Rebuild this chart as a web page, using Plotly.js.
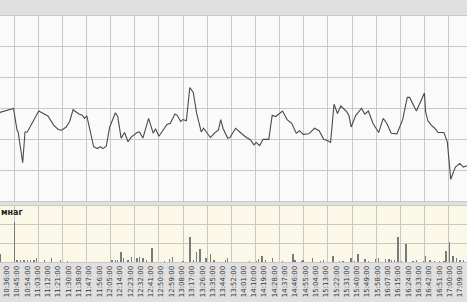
<!DOCTYPE html>
<html><head><meta charset="utf-8">
<script src="https://cdn.plot.ly/plotly-3.0.1.min.js"></script>
<style>html,body{margin:0;padding:0;background:#e0e0e0;overflow:hidden}#chart{width:467px;height:302px}</style>
</head><body><div id="chart"></div>
<script>
// bar index (0 = 10:36:00)
const priceIdx = [-7,4,6,9,10,14,16,18,23,28,32,36,41,45,48,52,55,58,63,66,68,70,76,79,82,84,87,90,95,97,100,103,106,109,114,116,119,124,128,130,133,137,140,143,147,149,152,154,157,160,163,166,170,172,175,178,182,185,187,189,193,195,200,204,208,213,216,218,221,224,229,232,235,241,245,249,253,256,259,264,269,273,277,280,283,286,289,292,297,299,301,305,310,313,316,320,325,329,332,336,341,346,350,352,358,365,366,368,371,374,377,382,385,388,392,396,399,402,405];
const priceVal = [86.43,86.49,86.50,86.15,86.12,85.62,86.12,86.12,86.29,86.46,86.42,86.38,86.23,86.16,86.15,86.20,86.29,86.48,86.41,86.39,86.34,86.38,85.88,85.85,85.88,85.85,85.89,86.20,86.43,86.37,86.02,86.11,85.96,86.04,86.11,86.12,86.02,86.34,86.10,86.17,86.05,86.15,86.24,86.26,86.41,86.39,86.29,86.32,86.30,86.84,86.76,86.42,86.12,86.18,86.10,86.03,86.11,86.15,86.32,86.18,86.02,86.03,86.18,86.11,86.05,85.99,85.91,85.95,85.90,86.00,86.00,86.39,86.37,86.46,86.32,86.26,86.10,86.14,86.08,86.09,86.18,86.14,86.00,85.98,85.95,86.57,86.42,86.54,86.45,86.39,86.20,86.39,86.50,86.41,86.46,86.26,86.11,86.34,86.26,86.10,86.09,86.32,86.68,86.68,86.46,86.75,86.45,86.30,86.23,86.18,86.11,86.11,85.96,85.35,85.55,85.61,85.55,85.57,85.56];
const volIdx = [-6,7,9,12,15,18,21,24,26,33,39,47,53,92,95,97,100,102,106,109,114,116,119,122,127,138,142,145,154,160,163,166,169,174,178,181,191,193,212,218,220,223,226,232,241,250,252,258,259,267,274,277,285,291,294,301,304,307,313,316,322,325,331,334,336,339,342,345,349,355,358,364,366,370,374,378,382,384,387,390,393,396,399];
const volVal = [430,2160,110,110,110,110,110,110,200,110,230,110,50,110,110,110,520,200,110,280,230,280,230,110,770,50,160,280,50,1355,110,550,700,200,410,110,110,230,30,50,160,340,110,200,30,410,110,60,110,230,30,110,320,30,30,200,30,430,140,50,160,200,160,160,110,110,1323,30,964,30,110,30,320,110,50,50,50,600,1055,340,200,110,110];
const tickIdx = [-9,0,9,18,27,36,45,54,63,72,81,90,99,108,117,126,135,144,153,162,171,180,189,198,207,216,225,234,243,252,261,270,279,288,297,306,315,324,333,342,351,360,369,378,387,396];
const tickLabels = ["10:27:00","10:36:00","10:45:00","10:54:00","11:03:00","11:12:00","11:21:00","11:30:00","11:38:00","11:47:00","11:56:00","12:05:00","12:14:00","12:23:00","12:32:00","12:41:00","12:50:00","12:59:00","13:08:00","13:17:00","13:26:00","13:35:00","13:44:00","13:52:00","14:01:00","14:10:00","14:19:00","14:28:00","14:37:00","14:46:00","14:55:00","15:04:00","15:13:00","15:22:00","15:31:00","15:40:00","15:49:00","15:58:00","16:07:00","16:15:00","16:24:00","16:33:00","16:42:00","16:51:00","17:00:00","17:09:00"];

const xRange = [-5.85, 402.2];
const gridVals = [];
for (let k = -1; k <= 20; k++) gridVals.push(6.38 + 21.1 * k);
const gc = 'rgb(200,200,200)';

const traces = [
  {type:'scatter', mode:'lines', x: priceIdx, y: priceVal, xaxis:'x2', yaxis:'y',
   line:{color:'#4a4a4a', width:1.1}, hoverinfo:'skip'},
  {type:'bar', x: volIdx, y: volVal, xaxis:'x', yaxis:'y2', width:1.2,
   marker:{color:'#7a7a7a', line:{width:0}}, hoverinfo:'skip'}
];

const layout = {
  width:467, height:302, margin:{l:0,r:0,t:0,b:0},
  paper_bgcolor:'#e0e0e0', plot_bgcolor:'rgba(0,0,0,0)',
  showlegend:false, bargap:0,
  font:{family:'DejaVu Sans', size:7, color:'#3a3a3a'},
  xaxis:{anchor:'y2', domain:[0,1], range:xRange, tickmode:'array', tickvals:tickIdx, ticktext:tickLabels,
    tickangle:-90, showgrid:false, zeroline:false, ticks:'', showline:true, mirror:true, linecolor:gc,
    tickfont:{family:'DejaVu Sans', size:7, color:'#3a3a3a'},
    minor:{tickmode:'array', tickvals:gridVals, showgrid:true, gridcolor:gc, gridwidth:1, ticks:''}},
  xaxis2:{anchor:'y', matches:'x', domain:[0,1], range:xRange, tickmode:'array', tickvals:gridVals,
    showticklabels:false, showgrid:true, gridcolor:gc, zeroline:false, ticks:'', showline:true, mirror:true, linecolor:gc},
  yaxis:{domain:[0.3344,0.947], range:[85,88], dtick:0.5, tick0:85, showticklabels:false, showgrid:true,
    gridcolor:gc, zeroline:false, ticks:''},
  yaxis2:{domain:[0.1325,0.3179], range:[0,3000], dtick:1000, tick0:0, showticklabels:false, showgrid:true,
    gridcolor:gc, zeroline:false, ticks:''},
  shapes:[
    {type:'rect', xref:'paper', yref:'paper', x0:0, x1:1, y0:0.3344, y1:0.947, fillcolor:'#fafafa', line:{width:0}, layer:'below'},
    {type:'rect', xref:'paper', yref:'paper', x0:0, x1:1, y0:0.1325, y1:0.3179, fillcolor:'#fcf8e8', line:{width:0}, layer:'below'}
  ],
  annotations:[
    {xref:'paper', yref:'paper', x:0, y:(302-213)/302, xanchor:'left', yanchor:'middle', showarrow:false,
     xshift:-1, text:'<b>мнаг</b>', font:{family:'DejaVu Sans', size:8, color:'#222'}}
  ]
};
Plotly.newPlot('chart', traces, layout, {staticPlot:true, displayModeBar:false});
</script></body></html>
